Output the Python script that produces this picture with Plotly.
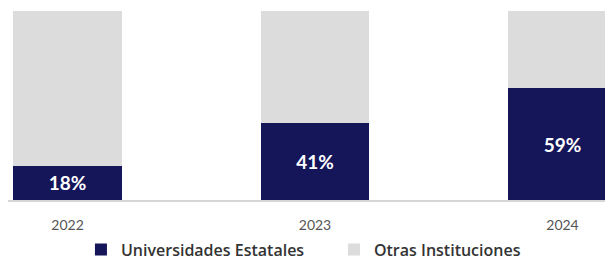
import plotly.graph_objects as go

years = ["2022", "2023", "2024"]
estatales = [18, 41, 59]
otras = [82, 59, 41]
labels = ["18%", "41%", "59%"]

xpos = list(range(len(years)))
navy = "#15155a"
gray = "#dcdcdc"
font = "Lato, 'Open Sans', sans-serif"
legend_font = "'Open Sans', Lato, sans-serif"

fig = go.Figure()
fig.add_trace(go.Bar(
    x=xpos, y=estatales, name="Universidades Estatales",
    marker=dict(color=navy, line=dict(width=0)), width=0.44,
    text=labels, texttemplate="%{text}", textposition="inside",
    insidetextanchor="middle",
    textfont=dict(color="white", size=19, family=font, weight="bold"),
))
fig.add_trace(go.Bar(
    x=xpos, y=otras, name="Otras Instituciones",
    marker=dict(color=gray, line=dict(width=0)), width=0.44,
    hoverinfo="skip",
))

fig.update_layout(
    barmode="stack",
    width=613, height=262,
    margin=dict(l=0, r=0, t=3, b=70, autoexpand=False),
    plot_bgcolor="white", paper_bgcolor="white",
    font=dict(family=font, color="#333333"),
    xaxis=dict(
        range=[-0.2404, 2.2364], tickvals=xpos, ticktext=years,
        showgrid=False, zeroline=False, showline=True, linecolor="#d6d6d6",
        linewidth=2, ticks="", tickfont=dict(size=14, color="#555555"),
        ticklabelstandoff=11, automargin=False,
    ),
    yaxis=dict(range=[0, 100], visible=False, automargin=False),
    legend=dict(
        orientation="h", x=0.119, xanchor="left", y=-0.262, yanchor="middle",
        font=dict(size=16, color="#333333", family=legend_font, weight=600),
        traceorder="normal", entrywidth=208,
    ),
    showlegend=True,
)

fig.write_html("out.html")
